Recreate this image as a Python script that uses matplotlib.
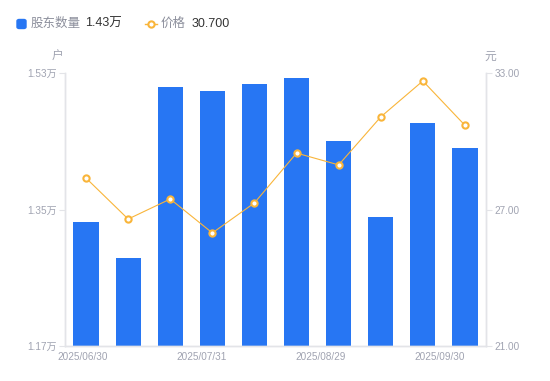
import numpy as np
from matplotlib import pyplot as plt
from matplotlib.lines import Line2D
from matplotlib.patches import FancyBboxPatch

plt.rcParams['font.family'] = ['Liberation Sans', 'Noto Sans CJK SC', 'DejaVu Sans']

# data
DATES = ["2025/06/30", "2025/07/31", "2025/08/29", "2025/09/30"]
holders = [1.333, 1.286, 1.511, 1.506, 1.515, 1.523, 1.440, 1.340, 1.464, 1.431]  # 万户
price = [28.38, 26.58, 27.46, 25.97, 27.29, 29.48, 28.96, 31.07, 32.65, 30.70]
left_ticks = [1.17, 1.35, 1.53]
right_ticks = [21.0, 27.0, 33.0]

BLUE = "#2776f3"
ORANGE = "#f9b53a"
GRAY = "#a0a3b1"
AXIS = "#e3e4e8"

fig = plt.figure(figsize=(5.5, 3.81), dpi=100)
ax = fig.add_axes([65 / 550, 35 / 381, 421 / 550, 273 / 381])
ax2 = ax.twinx()

x = np.arange(len(holders))
ax.bar(x, holders, width=0.6, color=BLUE, zorder=2)
ax.set_xlim(-0.5, len(holders) - 0.5)
ax.set_ylim(left_ticks[0], left_ticks[-1])
ax.set_yticks(left_ticks)
ax.set_yticklabels(["{:.2f}万".format(v) for v in left_ticks])

ax2.plot(x, price, color=ORANGE, lw=0.8, marker="o", ms=4.5, mfc="white",
         mec=ORANGE, mew=1.5, zorder=3)
ax2.set_ylim(right_ticks[0], right_ticks[-1])
ax2.set_yticks(right_ticks)
ax2.set_yticklabels(["{:.2f}".format(v) for v in right_ticks])

# date labels spread evenly under the axis
ax.set_xticks(np.linspace(-0.07, 8.4, len(DATES)))
ax.set_xticklabels(DATES)

for a in (ax, ax2):
    for s in a.spines.values():
        s.set_color(AXIS)
        s.set_linewidth(1)
    a.spines["top"].set_visible(False)
    a.tick_params(axis="y", colors=AXIS, labelcolor=GRAY, labelsize=7.2, length=4, pad=2)
    a.tick_params(axis="x", length=0, labelcolor=GRAY, labelsize=7.2, pad=4)

# axis unit labels
fig.text(58 / 550, 1 - 57 / 381, "户", color=GRAY, fontsize=8.5, ha="center", va="center")
fig.text(490 / 550, 1 - 57 / 381, "元", color=GRAY, fontsize=8.5, ha="center", va="center")

# legend row
ly = 1 - 24 / 381
fig.patches.append(FancyBboxPatch((17 / 550, ly - 4.5 / 381), 9 / 550, 9 / 381,
                                  boxstyle="round,pad=0,rounding_size=0.004",
                                  transform=fig.transFigure, color=BLUE, figure=fig))
fig.text(31 / 550, ly, "股东数量", color="#8c8f9c", fontsize=9, va="center")
fig.text(85 / 550, ly, "{:.2f}万".format(holders[-1]), color="#333333", fontsize=9, va="center")
fig.lines.append(Line2D([145 / 550, 157 / 550], [ly, ly], transform=fig.transFigure, color=ORANGE,
                        lw=1, figure=fig))
fig.lines.append(Line2D([151 / 550], [ly], transform=fig.transFigure, color=ORANGE, marker="o",
                        ms=4.5, mfc="white", mew=1.5, figure=fig))
fig.text(161 / 550, ly, "价格", color="#8c8f9c", fontsize=9, va="center")
fig.text(192 / 550, ly, "{:.3f}".format(price[-1]), color="#333333", fontsize=9, va="center")

fig.savefig("out.png", dpi=100)
